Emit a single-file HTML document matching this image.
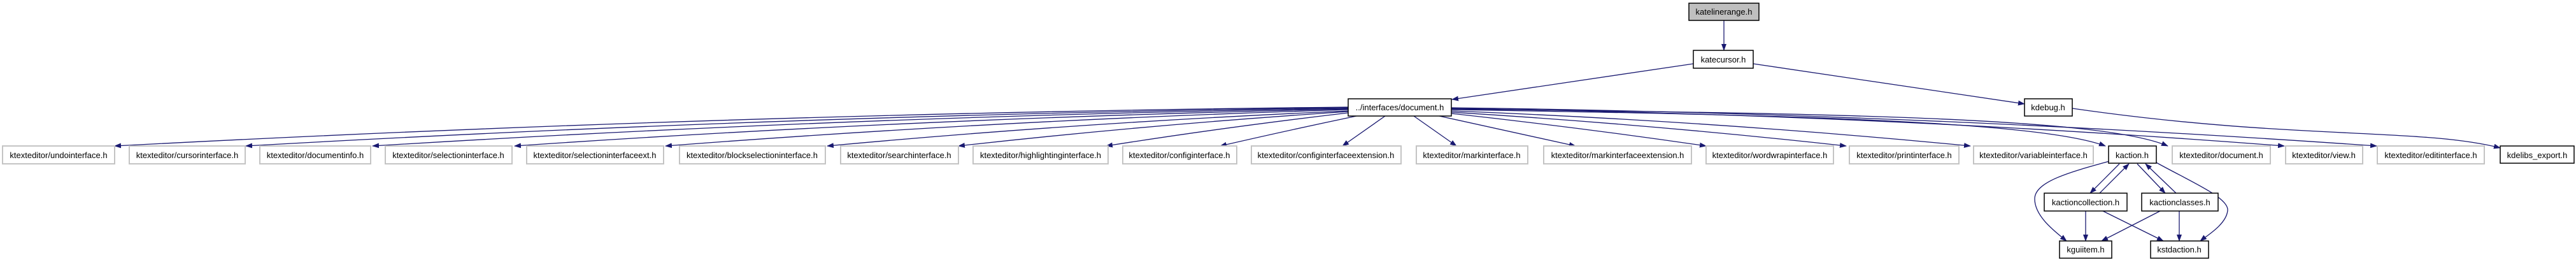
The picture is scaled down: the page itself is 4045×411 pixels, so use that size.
<!DOCTYPE html>
<html><head><meta charset="utf-8">
<style>
html,body{margin:0;padding:0;background:#fff;width:4045px;height:411px;overflow:hidden}
svg{display:block}
text{font-family:"Liberation Sans",Arial,sans-serif;font-size:13px;fill:#000}
.g{fill:#fff;stroke:#c4c4c4;stroke-width:2}
.b{fill:#fff;stroke:#000;stroke-width:1.5}
.e{fill:none;stroke:#191970;stroke-width:1.3}
</style></head><body>
<svg width="4045" height="411" viewBox="0 0 4045 411" xmlns="http://www.w3.org/2000/svg">
<defs>
<marker id="a" markerUnits="userSpaceOnUse" markerWidth="11" markerHeight="8" refX="10" refY="4" orient="auto">
<path d="M0,0 L11,4 L0,8 z" fill="#191970"/>
</marker>
</defs>
<g class="e" marker-end="url(#a)">
<!-- top -->
<path d="M2707,32 L2707,79"/>
<path d="M2659,100 L2280,156"/>
<path d="M2753,100 L3179,163"/>
<path d="M3254,170 C3600,220 3800,200 3926,232"/>
<!-- left fan -->
<path d="M2117,168 Q1150,178 180,229"/>
<path d="M2117,169 Q1250,180 386,229"/>
<path d="M2117,170 Q1350,182 585,229"/>
<path d="M2117,171 Q1450,185 808,229"/>
<path d="M2117,172 Q1580,188 1045,229"/>
<path d="M2117,174 Q1700,192 1299,229"/>
<path d="M2117,175 Q1800,196 1505,229"/>
<path d="M2117,177 Q1920,200 1737,229"/>
<path d="M2130,182 Q2020,205 1916,229"/>
<path d="M2175,182 L2108,229"/>
<!-- right fan -->
<path d="M2220,182 L2287,229"/>
<path d="M2260,182 L2474,229"/>
<path d="M2279,178 Q2480,200 2679,229"/>
<path d="M2279,176 Q2590,195 2899,229"/>
<path d="M2279,174 Q2690,190 3094,229"/>
<path d="M2279,172 C2800,180 3200,190 3306,229"/>
<path d="M2279,171 C2900,178 3300,185 3404,229"/>
<path d="M2279,170 Q2950,180 3587,229"/>
<path d="M2279,169 Q3000,178 3732,229"/>
<!-- kaction subgraph -->
<path d="M3312,253 C3250,270 3195,285 3195,312 C3195,340 3228,364 3245,378"/>
<path d="M3328,257 L3282,303"/>
<path d="M3297,303 L3343,257"/>
<path d="M3356,257 L3400,303"/>
<path d="M3417,303 L3369,257"/>
<path d="M3275,331 L3275,378"/>
<path d="M3302,331 L3397,378"/>
<path d="M3392,331 L3300,378"/>
<path d="M3422,331 L3422,378"/>
<path d="M3386,255 C3440,285 3500,310 3498,330 C3496,352 3465,370 3455,378"/>
</g>
<!-- nodes -->
<rect x="2652" y="5" width="110" height="27" fill="#bfbfbf" stroke="#000" stroke-width="1.5"/>
<text x="2707" y="23" text-anchor="middle">katelinerange.h</text>
<rect class="b" x="2659" y="79" width="94" height="28"/><text x="2706" y="98" text-anchor="middle">katecursor.h</text>
<rect class="b" x="2117" y="155" width="162" height="27"/><text x="2198" y="173" text-anchor="middle">../interfaces/document.h</text>
<rect class="b" x="3179" y="155" width="75" height="27"/><text x="3216" y="173" text-anchor="middle">kdebug.h</text>

<g>
<rect class="g" x="4" y="229" width="176" height="28"/><text x="92" y="248" text-anchor="middle">ktexteditor/undointerface.h</text>
<rect class="g" x="203" y="229" width="182" height="28"/><text x="294" y="248" text-anchor="middle">ktexteditor/cursorinterface.h</text>
<rect class="g" x="408" y="229" width="174" height="28"/><text x="495" y="248" text-anchor="middle">ktexteditor/documentinfo.h</text>
<rect class="g" x="605" y="229" width="199" height="28"/><text x="704" y="248" text-anchor="middle">ktexteditor/selectioninterface.h</text>
<rect class="g" x="827" y="229" width="215" height="28"/><text x="934" y="248" text-anchor="middle">ktexteditor/selectioninterfaceext.h</text>
<rect class="g" x="1067" y="229" width="229" height="28"/><text x="1181" y="248" text-anchor="middle">ktexteditor/blockselectioninterface.h</text>
<rect class="g" x="1320" y="229" width="185" height="28"/><text x="1412" y="248" text-anchor="middle">ktexteditor/searchinterface.h</text>
<rect class="g" x="1528" y="229" width="212" height="28"/><text x="1634" y="248" text-anchor="middle">ktexteditor/highlightinginterface.h</text>
<rect class="g" x="1763" y="229" width="179" height="28"/><text x="1852" y="248" text-anchor="middle">ktexteditor/configinterface.h</text>
<rect class="g" x="1965" y="229" width="235" height="28"/><text x="2082" y="248" text-anchor="middle">ktexteditor/configinterfaceextension.h</text>
<rect class="g" x="2224" y="229" width="175" height="28"/><text x="2311" y="248" text-anchor="middle">ktexteditor/markinterface.h</text>
<rect class="g" x="2424" y="229" width="232" height="28"/><text x="2540" y="248" text-anchor="middle">ktexteditor/markinterfaceextension.h</text>
<rect class="g" x="2679" y="229" width="200" height="28"/><text x="2779" y="248" text-anchor="middle">ktexteditor/wordwrapinterface.h</text>
<rect class="g" x="2904" y="229" width="172" height="28"/><text x="2990" y="248" text-anchor="middle">ktexteditor/printinterface.h</text>
<rect class="g" x="3099" y="229" width="188" height="28"/><text x="3193" y="248" text-anchor="middle">ktexteditor/variableinterface.h</text>
<rect class="b" x="3311" y="229" width="75" height="27"/><text x="3348" y="248" text-anchor="middle">kaction.h</text>
<rect class="g" x="3411" y="229" width="154" height="28"/><text x="3488" y="248" text-anchor="middle">ktexteditor/document.h</text>
<rect class="g" x="3589" y="229" width="121" height="28"/><text x="3649" y="248" text-anchor="middle">ktexteditor/view.h</text>
<rect class="g" x="3733" y="229" width="168" height="28"/><text x="3817" y="248" text-anchor="middle">ktexteditor/editinterface.h</text>
<rect class="b" x="3926" y="229" width="116" height="27"/><text x="3984" y="248" text-anchor="middle">kdelibs_export.h</text>
</g>
<rect class="b" x="3210" y="303" width="130" height="28"/><text x="3275" y="322" text-anchor="middle">kactioncollection.h</text>
<rect class="b" x="3363" y="303" width="120" height="28"/><text x="3423" y="322" text-anchor="middle">kactionclasses.h</text>
<rect class="b" x="3234" y="378" width="82" height="27"/><text x="3275" y="396" text-anchor="middle">kguiitem.h</text>
<rect class="b" x="3377" y="378" width="91" height="27"/><text x="3422" y="396" text-anchor="middle">kstdaction.h</text>
</svg>
</body></html>
